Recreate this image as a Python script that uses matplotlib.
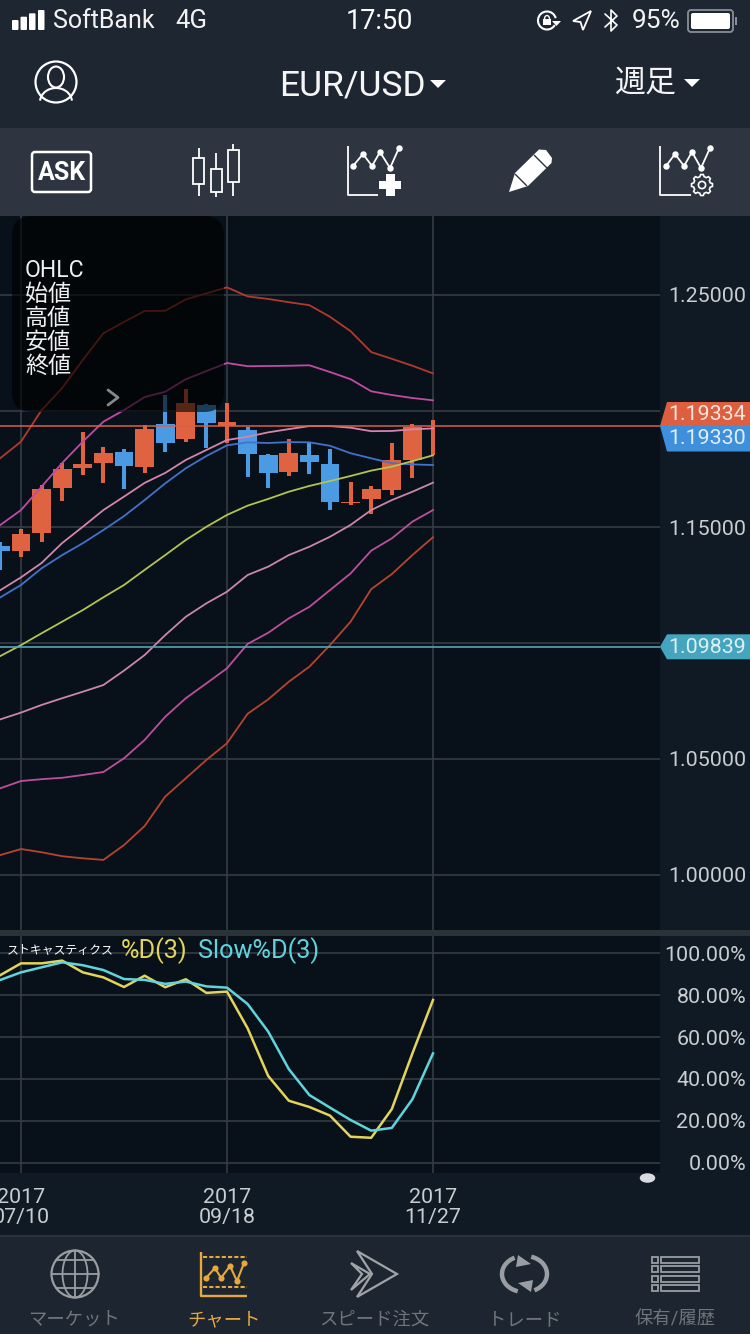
import numpy as np
import matplotlib
matplotlib.use("Agg")
import matplotlib.pyplot as plt
from matplotlib.patches import Rectangle, FancyBboxPatch, Polygon, Circle, Ellipse, Arc

plt.rcParams['font.family'] = ['Roboto', 'Noto Sans CJK JP', 'DejaVu Sans']

# ---------- data ----------
weeks = list(range(-21, 1))   # weeks relative to 2017/11/27
opens = [1.1419, 1.1398, 1.1473, 1.1669, 1.1754, 1.1776, 1.1823, 1.1759, 1.1944, 1.1878, 1.2025,
         1.1934, 1.1917, 1.1809, 1.1737, 1.1810, 1.1772, 1.1603, 1.1619, 1.1659, 1.1790, 1.1933]
closes = [1.1398, 1.1470, 1.1664, 1.1749, 1.1773, 1.1820, 1.1762, 1.1922, 1.1863, 1.2036, 1.1947,
          1.1951, 1.1816, 1.1731, 1.1819, 1.1781, 1.1609, 1.1608, 1.1664, 1.1790, 1.1932, 1.1933]
highs = [1.1437, 1.1490, 1.1681, 1.1775, 1.1911, 1.1846, 1.1838, 1.1940, 1.2069, 1.2094, 1.2029,
         1.2033, 1.1932, 1.1815, 1.1878, 1.1861, 1.1836, 1.1693, 1.1677, 1.1861, 1.1945, 1.1961]
lows = [1.1315, 1.1369, 1.1434, 1.1613, 1.1723, 1.1688, 1.1662, 1.1731, 1.1823, 1.1868, 1.1839,
        1.1861, 1.1717, 1.1669, 1.1720, 1.1730, 1.1575, 1.1594, 1.1555, 1.1637, 1.1713, 1.1810]

bb_up3 = [1.1797, 1.1868, 1.2004, 1.2099, 1.2220, 1.2335, 1.2384, 1.2431, 1.2432, 1.2481, 1.2507,
          1.2533, 1.2494, 1.2483, 1.2469, 1.2456, 1.2406, 1.2344, 1.2254, 1.2225, 1.2195, 1.2162]
bb_up2 = [1.1509, 1.1573, 1.1674, 1.1776, 1.1868, 1.1954, 1.2004, 1.2060, 1.2083, 1.2137, 1.2172,
          1.2207, 1.2193, 1.2194, 1.2195, 1.2197, 1.2168, 1.2137, 1.2085, 1.2069, 1.2056, 1.2046]
bb_up1 = [1.1228, 1.1283, 1.1345, 1.1431, 1.1501, 1.1573, 1.1631, 1.1690, 1.1733, 1.1789, 1.1832,
          1.1875, 1.1889, 1.1908, 1.1922, 1.1935, 1.1935, 1.1928, 1.1913, 1.1914, 1.1921, 1.1925]
ma_short = [1.1197, 1.1250, 1.1322, 1.1379, 1.1430, 1.1487, 1.1547, 1.1616, 1.1688, 1.1753, 1.1806,
            1.1852, 1.1865, 1.1862, 1.1866, 1.1865, 1.1850, 1.1818, 1.1796, 1.1775, 1.1770, 1.1767]
ma_long = [1.0944, 1.0991, 1.1042, 1.1092, 1.1142, 1.1197, 1.1250, 1.1315, 1.1379, 1.1444, 1.1501,
           1.1552, 1.1592, 1.1621, 1.1652, 1.1677, 1.1698, 1.1720, 1.1743, 1.1760, 1.1784, 1.1809]
bb_dn1 = [1.0671, 1.0700, 1.0733, 1.0762, 1.0790, 1.0819, 1.0881, 1.0948, 1.1034, 1.1113, 1.1171,
          1.1221, 1.1293, 1.1329, 1.1379, 1.1415, 1.1458, 1.1509, 1.1573, 1.1616, 1.1652, 1.1691]
bb_dn2 = [1.0374, 1.0405, 1.0413, 1.0419, 1.0431, 1.0444, 1.0503, 1.0582, 1.0682, 1.0762, 1.0826,
          1.0891, 1.0996, 1.1044, 1.1106, 1.1156, 1.1228, 1.1300, 1.1398, 1.1451, 1.1523, 1.1573]
bb_dn3 = [1.0086, 1.0112, 1.0098, 1.0081, 1.0072, 1.0065, 1.0129, 1.0211, 1.0338, 1.0417, 1.0496,
          1.0568, 1.0695, 1.0757, 1.0833, 1.0898, 1.0991, 1.1092, 1.1232, 1.1297, 1.1379, 1.1456]

stoch_d = [89.6, 95.2, 95.2, 96.5, 90.9, 88.5, 83.9, 89.3, 83.8, 87.6, 81.1,
           81.7, 64.2, 41.4, 29.6, 26.6, 22.5, 12.4, 11.9, 25.6, 52.2, 77.7]
stoch_slow = [87.3, 90.9, 93.3, 95.7, 94.3, 92.0, 87.7, 87.3, 85.4, 86.5, 84.2,
              83.6, 75.8, 62.6, 44.7, 32.3, 26.3, 20.4, 15.3, 16.6, 30.3, 52.2]

price_grid = [1.00, 1.05, 1.10, 1.15, 1.20, 1.25]
price_labels = ['1.00000', '1.05000', '', '1.15000', '', '1.25000']
pct_grid = [0, 20, 40, 60, 80, 100]
pct_labels = ['0.00%', '20.00%', '40.00%', '60.00%', '80.00%', '100.00%']
date_ticks = [-20, -10, 0]
date_labels = ['2017\n07/10', '2017\n09/18', '2017\n11/27']
ask_price, bid_price, line_price = 1.19334, 1.19330, 1.09839

# ---------- colours ----------
C_FIG = '#0F1A24'; C_PLOT = '#08111A'; C_NAV = '#1E2632'; C_TOOL = '#2E3540'
C_GRID = '#363C43'; C_UP = '#DF6340'; C_DN = '#4A9BE3'; C_TAB = '#1C2530'
C_GREY = '#9A9EA3'; C_ACT = '#E8A93B'; C_TXT = '#C9CDD1'

W, H = 750, 1334
fig = plt.figure(figsize=(W/100, H/100), dpi=100, facecolor=C_FIG)

def px_axes(x0, y0, x1, y1, **kw):
    return fig.add_axes([x0/W, 1-y1/H, (x1-x0)/W, (y1-y0)/H], **kw)

XL = ((0-433)/20.6, (660-433)/20.6)

def style(ax):
    ax.set_facecolor(C_PLOT)
    for s in ax.spines.values():
        s.set_visible(False)
    ax.set_xlim(*XL)
    ax.set_axisbelow(True)
    ax.grid(True, color=C_GRID, lw=1.2)
    ax.yaxis.tick_right()
    ax.tick_params(length=0, colors=C_TXT, labelsize=15.4)

# ---------- main price panel ----------
ax = px_axes(0, 216, 660, 930)
style(ax)
ax.set_ylim(1.25-(930-295)/2320, 1.25+(295-216)/2320)
ax.set_xticks(date_ticks); ax.set_xticklabels([])
ax.set_yticks(price_grid); ax.set_yticklabels(price_labels)
ax.tick_params(axis='y', pad=62)
for t in ax.get_yticklabels():
    t.set_ha('right')

cols = [C_UP if c >= o else C_DN for o, c in zip(opens, closes)]
ax.vlines(weeks, lows, highs, colors=cols, lw=2.9, capstyle='butt', zorder=2)
ax.bar(weeks, [abs(c-o) for o, c in zip(opens, closes)],
       bottom=[min(o, c) for o, c in zip(opens, closes)],
       width=0.92, color=cols, lw=0, zorder=2)

line_styles = [(bb_up3, '#B23A2C'), (bb_up2, '#C24AA4'), (bb_up1, '#D684AC'),
               (ma_short, '#4272CC'), (ma_long, '#B4C44C'),
               (bb_dn1, '#CC86A8'), (bb_dn2, '#BE4E9C'), (bb_dn3, '#B8442C')]
for vals, c in line_styles:
    ax.plot(weeks, vals, color=c, lw=1.3, zorder=3)
ax.axhline(ask_price, color='#D8604A', lw=1.1, zorder=4)
ax.axhline(line_price, color='#4FA7B8', lw=1.2, zorder=4)

# ---------- stochastic panel ----------
a2 = px_axes(0, 936, 660, 1173)
style(a2)
a2.set_ylim(-(1173-1162.7)/2.094, (1162.7-936)/2.094)
a2.set_xticks(date_ticks); a2.set_xticklabels(date_labels, linespacing=1.02)
a2.set_yticks(pct_grid); a2.set_yticklabels(pct_labels)
a2.tick_params(axis='y', pad=62)
a2.tick_params(axis='x', pad=11)
for t in a2.get_yticklabels():
    t.set_ha('right')
a2.plot(weeks, stoch_d, color='#E4D45C', lw=1.8, zorder=3)
a2.plot(weeks, stoch_slow, color='#5FD4DC', lw=1.8, zorder=3)

# ---------- overlay in pixel coordinates ----------
ov = fig.add_axes([0, 0, 1, 1], zorder=10)
ov.set_xlim(0, W); ov.set_ylim(H, 0); ov.axis('off'); ov.autoscale(False)

def rect(x0, y0, x1, y1, c, **kw):
    ov.add_patch(Rectangle((x0, y0), x1-x0, y1-y0, fc=c, ec='none', **kw))
def line(xs, ys, c='white', lw=1.4, **kw):
    ov.plot(xs, ys, color=c, lw=lw, solid_capstyle=kw.pop('cap', 'round'), **kw)
def label(x, y, s, size, c='white', ha='center', **kw):
    ov.text(x, y, s, fontsize=size, color=c, ha=ha, va='center', **kw)
def poly(pts, fc='white', ec='none', lw=0, **kw):
    ov.add_patch(Polygon(pts, closed=True, fc=fc, ec=ec, lw=lw, **kw))

rect(0, 0, W, 128, C_NAV)
rect(0, 128, W, 216, C_TOOL)
rect(0, 1236, W, H, C_TAB)
rect(0, 1235, W, 1236.5, '#2A323C')
rect(0, 930, W, 936, '#2A3338')

# tooltip
ov.add_patch(FancyBboxPatch((12+20, 216+20), 212-40, 196-40,
             boxstyle='round,pad=20,rounding_size=20', fc='black', ec='none', alpha=0.62))
for y, s in zip([270.5, 294.5, 318.5, 342.5, 366.5], ['OHLC', '始値', '高値', '安値', '終値']):
    label(25, y, s, 16.6, ha='left', c='#F0F0F0')
line([108, 118, 108], [390, 397.5, 405], c='#85898D', lw=2.0)

# price tags
poly([(660, 426), (667, 402), (750, 402), (750, 426)], fc='#DD5F3F')
poly([(660, 426), (667, 451.5), (750, 451.5), (750, 426)], fc='#3F90DC')
poly([(660, 646.8), (667, 634.3), (750, 634.3), (750, 659.3), (667, 659.3)], fc='#45A5BE')
label(746, 414.5, f'{ask_price:.5f}', 15.4, ha='right', c='#F2E6E0')
label(746, 438.5, f'{bid_price:.5f}', 15.4, ha='right', c='#E2EEF8')
label(746, 647.5, f'{line_price:.5f}', 15.4, ha='right', c='#DCEFF3')

# stochastic legend
label(7, 950, 'ストキャスティクス', 8.6, ha='left')
label(121, 951, '%D(3)', 18.2, ha='left', c='#E4D45C')
label(198, 951, 'Slow%D(3)', 18.2, ha='left', c='#5FD4DC')
ov.add_patch(Ellipse((647.5, 1178), 15.5, 9.5, fc='#D8DCE0', ec='none'))

# status bar
for x0, top in zip([12, 20.5, 29, 38], [20, 16.7, 13.3, 10]):
    ov.add_patch(FancyBboxPatch((x0+1, top+1), 4.5, 30-top-2,
                 boxstyle='round,pad=1,rounding_size=1', fc='white', ec='none'))
label(53, 21.5, 'SoftBank', 18, ha='left', c='#F2F2F2')
label(175, 21.5, '4G', 18.5, ha='left', c='#F2F2F2')
label(379, 21.5, '17:50', 19.5, c='white')
label(632, 21.5, '95%', 19, ha='left', c='#F2F2F2')
# rotation lock
ov.add_patch(Arc((547, 20.5), 18, 18, theta1=30, theta2=345, ec='white', lw=1.5))
poly([(552, 21), (561, 21), (556.5, 26)])
rect(543, 19, 551, 25, 'white')
ov.add_patch(Arc((547, 19), 5, 7, theta1=180, theta2=360, ec='white', lw=1.0))
# location arrow
poly([(591, 11), (573, 21), (580.5, 22), (583, 30)], fc='none', ec='white', lw=1.3)
# bluetooth
line([605, 617, 611, 611, 617, 605], [14, 25, 31, 10, 16, 27], lw=1.2)
# battery
ov.add_patch(FancyBboxPatch((691, 13), 39, 16, boxstyle='round,pad=3,rounding_size=3',
                            fc='none', ec='#8A8F96', lw=1.3))
ov.add_patch(FancyBboxPatch((692, 14), 37, 14, boxstyle='round,pad=1,rounding_size=2',
                            fc='white', ec='none'))
rect(735, 17, 737, 25, '#8A8F96')

# nav bar
ov.add_patch(Circle((56, 82), 20.5, fc='none', ec='white', lw=1.6))
ov.add_patch(Ellipse((56, 77), 16, 21, fc='none', ec='white', lw=1.5))
ov.add_patch(Arc((56, 102), 32, 28, theta1=185, theta2=355, ec='white', lw=1.5))
label(352, 85.5, 'EUR/USD', 25.5, c='#F5F5F5')
poly([(430, 80), (446, 80), (438, 88)])
label(646, 83.5, '週足', 22.3, c='#F5F5F5')
poly([(684, 79), (700, 79), (692, 87)])

# toolbar
ov.add_patch(FancyBboxPatch((35, 155), 53, 34, boxstyle='round,pad=3,rounding_size=3',
                            fc='none', ec='white', lw=1.8))
label(62, 172.5, 'ASK', 18, fontweight='bold')
for xc, bt, bb, wt, wb in [(198.5, 158, 184, 148, 196), (216, 169, 192, 153, 197), (233, 150, 182, 144, 196)]:
    line([xc, xc], [wt, wb], lw=1.3, cap='butt')
    ov.add_patch(Rectangle((xc-5.5, bt), 11, bb-bt, fc=C_TOOL, ec='white', lw=1.3, zorder=5))

def chart_icon(x0, xr, xs, ys):
    line([x0, x0, xr], [146, 195, 195], lw=1.3, cap='butt')
    line(xs, ys, lw=1.3)
    ov.plot(xs, ys, 'o', color='white', ms=3.6)
chart_icon(348, 378, [353, 363, 372, 380, 390, 399], [166, 154, 166, 152, 168, 148])
rect(379, 180.5, 401, 189, 'white'); rect(386, 174, 394.5, 196, 'white')
chart_icon(660, 691, [666, 675, 684, 692, 701, 710], [166, 154, 166, 152, 168, 148])
ang = np.linspace(0, 2*np.pi, 48, endpoint=False)
rad = 10.5 - 2.0*(np.cos(8*ang) < 0)
poly(np.c_[702+rad*np.cos(ang), 185+rad*np.sin(ang)], fc=C_TOOL, ec='white', lw=1.2, zorder=5)
ov.add_patch(Circle((702, 185), 3.6, fc='none', ec='white', lw=1.2, zorder=6))

# pencil
poly([(509, 192), (515, 173), (539, 149.5), (546, 150), (552, 158), (551.5, 163), (528, 186)])
line([534, 547], [155, 168], c=C_TOOL, lw=1.0, cap='butt')
line([515, 527], [174, 186], c=C_TOOL, lw=1.0, cap='butt')

# tab bar
ov.add_patch(Circle((75, 1274), 23.5, fc='none', ec=C_GREY, lw=1.6))
ov.add_patch(Ellipse((75, 1274), 25, 47, fc='none', ec=C_GREY, lw=1.3))
line([75, 75], [1251, 1297], c=C_GREY, lw=1.3)
line([51.5, 98.5], [1274, 1274], c=C_GREY, lw=1.3)
line([56, 94], [1260, 1260], c=C_GREY, lw=1.3)
line([56, 94], [1288, 1288], c=C_GREY, lw=1.3)

line([201, 201, 247], [1252, 1296, 1296], c=C_ACT, lw=1.7, cap='butt')
line([203, 247], [1257, 1257], c=C_ACT, lw=1.5, cap='butt', linestyle=(0, (2, 1)))
line([203, 247], [1287, 1287], c=C_ACT, lw=1.5, cap='butt', linestyle=(0, (2, 1)))
zx, zy = [206, 215, 221, 230, 237, 244], [1278, 1268, 1278, 1266, 1281, 1263]
line(zx, zy, c=C_ACT, lw=1.5)
ov.plot(zx, zy, 'o', color=C_ACT, ms=3.4)

poly([(357, 1251), (397, 1274), (357, 1297), (372, 1274)], fc='none', ec='#A0A4A8', lw=1.6)
poly([(351, 1263), (370, 1274), (351, 1290), (362, 1274)], fc='none', ec='#A0A4A8', lw=1.6)

ov.add_patch(Arc((524, 1274), 44, 36, theta1=110, theta2=240, ec=C_GREY, lw=3.2))
ov.add_patch(Arc((525, 1274), 44, 36, theta1=290, theta2=60, ec=C_GREY, lw=3.2))
poly([(518, 1255), (531, 1264), (516, 1267)], fc=C_GREY)
poly([(531, 1292), (518, 1283), (533, 1280)], fc=C_GREY)

for yc in [1260, 1269, 1279, 1288]:
    ov.add_patch(Rectangle((652, yc-3), 6, 6, fc='none', ec=C_GREY, lw=1.3))
    ov.add_patch(Rectangle((661, yc-3), 38, 6, fc='none', ec=C_GREY, lw=1.3))

for x, s, c in [(74, 'マーケット', '#70757B'), (224, 'チャート', C_ACT), (374, 'スピード注文', '#70757B'),
                (525, 'トレード', '#70757B'), (675, '保有/履歴', '#70757B')]:
    label(x, 1320, s, 13.2, c=c)

fig.savefig('out.png', dpi=100, facecolor=fig.get_facecolor())
